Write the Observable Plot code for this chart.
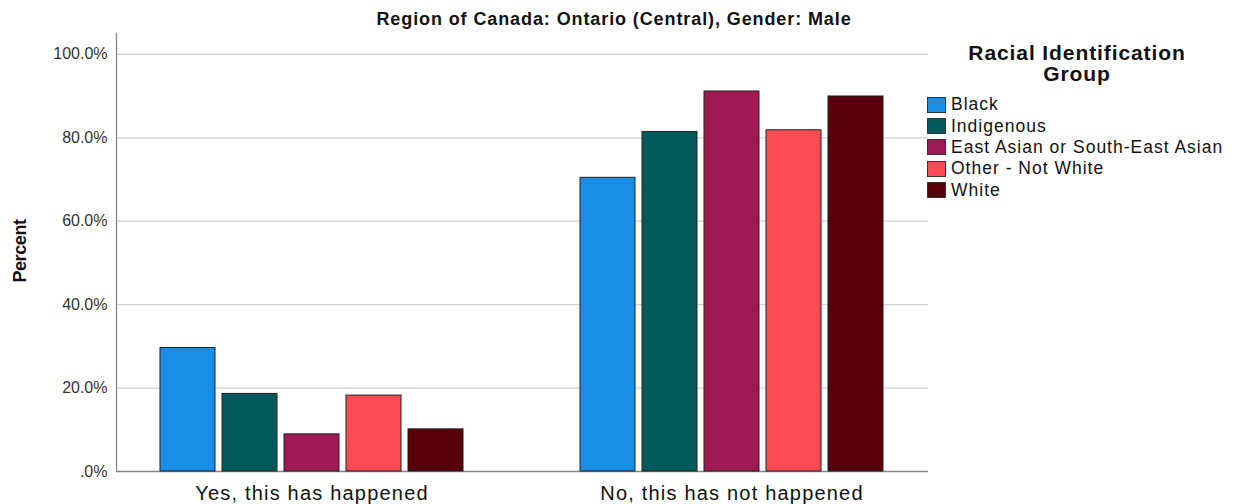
<!DOCTYPE html>
<html>
<head>
<meta charset="utf-8">
<script src="https://cdn.jsdelivr.net/npm/d3@7"></script>
<script src="https://cdn.jsdelivr.net/npm/@observablehq/plot@0.6"></script>
<style>
  body { margin: 0; background: #fff; font-family: "Liberation Sans", Arial, sans-serif; }
  #wrap { position: relative; width: 1236px; height: 504px; overflow: hidden; background: #fff; }
  #title { position: absolute; left: 0; top: 9px; width: 1228px; text-align: center; font-weight: bold;
           font-size: 18px; line-height: 20px; letter-spacing: 0.9px; color: #111; }
  #grid, #chart { position: absolute; left: 0; top: 30px; }
  #ylabel { position: absolute; left: 20px; top: 251px; transform: translate(-50%, -50%) rotate(-90deg);
            font-weight: bold; font-size: 18px; letter-spacing: -0.4px; white-space: nowrap; color: #111; }
  #legend-title { position: absolute; left: 927px; top: 42px; width: 300px; text-align: center;
                  font-weight: bold; font-size: 21px; line-height: 21px; letter-spacing: 0.9px; color: #111; }
  #legend { position: absolute; left: 927px; top: 94px; }
  .row { display: flex; align-items: center; height: 21.4px; }
  .sw { width: 19px; height: 16px; border: 1px solid #333; box-sizing: border-box; margin-right: 5px; }
  .lab { font-size: 17.5px; letter-spacing: 1px; color: #111; white-space: nowrap; }
  g[aria-label="fx-axis tick label"] { letter-spacing: 1.2px; }
</style>
</head>
<body>
<div id="wrap">
  <div id="title"></div>
  <div id="grid"></div>
  <div id="chart"></div>
  <div id="ylabel"></div>
  <div id="legend-title"></div>
  <div id="legend"></div>
</div>
<script>
const chartTitle = "Region of Canada: Ontario (Central), Gender: Male";
const yLabel = "Percent";
const legendTitle = ["Racial Identification", "Group"];
const groups = ["Yes, this has happened", "No, this has not happened"];
const races = ["Black", "Indigenous", "East Asian or South-East Asian", "Other - Not White", "White"];
const raceColors = ["#1a8ee6", "#045a5a", "#9e1a50", "#fd4b55", "#57000b"];
const yesValues = [29.6, 18.6, 8.9, 18.2, 10.1];
const noValues = [70.4, 81.4, 91.1, 81.8, 89.9];
const yTicks = [0, 20, 40, 60, 80, 100];
const yTickLabels = [".0%", "20.0%", "40.0%", "60.0%", "80.0%", "100.0%"];

const rows = [];
races.forEach((r, i) => {
  rows.push({group: groups[0], race: r, value: yesValues[i]});
  rows.push({group: groups[1], race: r, value: noValues[i]});
});

document.getElementById("title").textContent = chartTitle;
document.getElementById("ylabel").textContent = yLabel;
document.getElementById("legend-title").innerHTML = legendTitle.join("<br>");
const leg = document.getElementById("legend");
races.forEach((r, i) => {
  const row = document.createElement("div");
  row.className = "row";
  const sw = document.createElement("div");
  sw.className = "sw";
  sw.style.background = raceColors[i];
  const lab = document.createElement("div");
  lab.className = "lab";
  lab.textContent = r;
  row.appendChild(sw); row.appendChild(lab);
  leg.appendChild(row);
});

const common = {
  width: 1236,
  height: 474,
  marginTop: 3,
  marginBottom: 33,
  marginLeft: 116,
  marginRight: 308,
  style: {fontFamily: "Liberation Sans, Arial, sans-serif", background: "transparent", overflow: "visible"},
  y: {domain: [0, 105]}
};

// Background: grid, y axis, baseline, left axis line
const gridPlot = Plot.plot({
  ...common,
  marks: [
    Plot.ruleY(yTicks.filter(d => d > 0), {stroke: "#d2d2d2", strokeWidth: 1.3}),
    Plot.axisY({ticks: yTicks, tickFormat: d => yTickLabels[yTicks.indexOf(d)], tickSize: 0, tickPadding: 9,
                fontSize: 16, fill: "#333", label: null}),
    Plot.ruleY([0], {stroke: "#888", strokeWidth: 1.3}),
    Plot.frame({anchor: "left", stroke: "#888", strokeWidth: 1.3})
  ]
});
document.getElementById("grid").appendChild(gridPlot);

// Foreground: grouped bars
const barPlot = Plot.plot({
  ...common,
  facet: {marginTop: 0, marginBottom: 0, marginLeft: 0, marginRight: 0},
  fx: {domain: groups, paddingInner: 0.269, paddingOuter: 0.101},
  x: {domain: races, paddingInner: 0.11, paddingOuter: 0, axis: null},
  y: {domain: [0, 105], axis: null},
  color: {domain: races, range: raceColors},
  marks: [
    Plot.axisFx({anchor: "bottom", tickSize: 0, tickPadding: 14, fontSize: 20, fill: "#111", label: null}),
    Plot.barY(rows, {fx: "group", x: "race", y: "value", fill: "race", stroke: "#222", strokeWidth: 1})
  ]
});
document.getElementById("chart").appendChild(barPlot);
</script>
</body>
</html>
